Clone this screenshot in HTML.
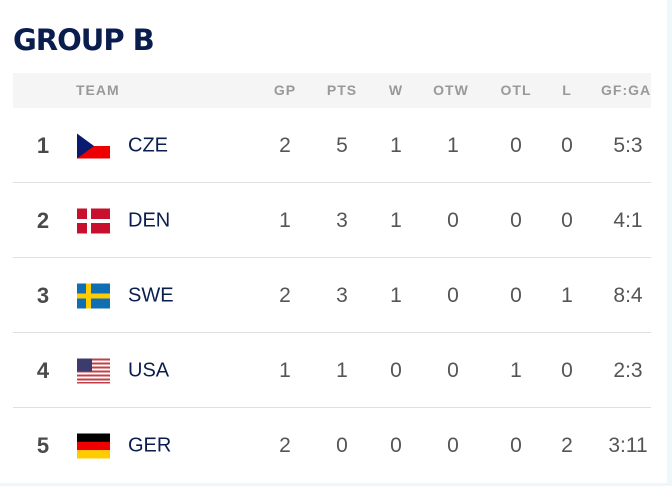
<!DOCTYPE html>
<html><head><meta charset="utf-8"><style>
*{margin:0;padding:0;box-sizing:border-box}
body{width:672px;height:486px;background:#fff;position:relative;overflow:hidden;font-family:"Liberation Sans","DejaVu Sans",sans-serif}
.a{position:absolute;white-space:nowrap}
h1{position:absolute;left:13px;top:23px;font-size:29px;font-weight:900;color:#0a1e4e;letter-spacing:-1px;font-family:"DejaVu Sans","Liberation Sans",sans-serif}
.hdr{position:absolute;left:13px;top:73px;width:638px;height:35px;background:#f5f5f5}
.h{position:absolute;top:82px;font-size:14px;font-weight:bold;color:#999;letter-spacing:1px;transform:translateX(-50%)}
.row{position:absolute;left:13px;width:638px;height:75px;border-bottom:1px solid #e0e0e0}
.n{position:absolute;font-size:21px;color:#555;transform:translate(-50%,-50%)}
.rk{position:absolute;font-size:22px;font-weight:bold;color:#4a4a4a;transform:translate(-50%,-50%)}
.tm{position:absolute;left:128px;font-size:20px;color:#0a1e4e;transform:translateY(-50%)}
.fl{position:absolute;left:77px;width:33px;height:25px;transform:translateY(-50%);overflow:hidden}
.strip{position:absolute;background:#eef8fa}
</style></head><body>
<h1>GROUP B</h1>
<div class="hdr"></div>
<div class="a" style="left:76px;top:82px;font-size:14px;font-weight:bold;color:#999;letter-spacing:1px">TEAM</div>
<div class="h" style="left:285px">GP</div>
<div class="h" style="left:342px">PTS</div>
<div class="h" style="left:396px">W</div>
<div class="h" style="left:451px">OTW</div>
<div class="h" style="left:516px">OTL</div>
<div class="h" style="left:567px">L</div>
<div class="a" style="left:601px;top:82px;font-size:14px;font-weight:bold;color:#999;letter-spacing:1px;width:50px;overflow:hidden">GF:GA</div>

<div class="row" style="top:108px"></div>
<div class="row" style="top:183px"></div>
<div class="row" style="top:258px"></div>
<div class="row" style="top:333px"></div>

<div class="strip" style="left:667px;top:0;width:5px;height:486px"></div>
<div class="strip" style="left:0;top:483px;width:672px;height:3px"></div>

<div style="position:absolute;left:0;top:146px;width:672px">
<div class="rk" style="left:43px">1</div>
<div class="fl"><svg width="33" height="25"><rect width="33" height="12.5" fill="#fff"/><rect y="12.5" width="33" height="12.5" fill="#e00"/><polygon points="0,0 17,12.5 0,25" fill="#0a1a6e"/></svg></div>
<div class="tm">CZE</div>
<div class="n" style="left:285px">2</div><div class="n" style="left:342px">5</div><div class="n" style="left:396px">1</div><div class="n" style="left:453px">1</div><div class="n" style="left:516px">0</div><div class="n" style="left:567px">0</div><div class="n" style="left:628px">5:3</div>
</div>
<div style="position:absolute;left:0;top:221px;width:672px">
<div class="rk" style="left:43px">2</div>
<div class="fl"><svg width="33" height="25"><rect width="33" height="25" fill="#c8102e"/><rect x="10" width="4" height="25" fill="#fff"/><rect y="10.5" width="33" height="4" fill="#fff"/></svg></div>
<div class="tm">DEN</div>
<div class="n" style="left:285px">1</div><div class="n" style="left:342px">3</div><div class="n" style="left:396px">1</div><div class="n" style="left:453px">0</div><div class="n" style="left:516px">0</div><div class="n" style="left:567px">0</div><div class="n" style="left:628px">4:1</div>
</div>
<div style="position:absolute;left:0;top:296px;width:672px">
<div class="rk" style="left:43px">3</div>
<div class="fl"><svg width="33" height="25"><rect width="33" height="25" fill="#106eb3"/><rect x="9" width="5" height="25" fill="#fecc00"/><rect y="10" width="33" height="5" fill="#fecc00"/></svg></div>
<div class="tm">SWE</div>
<div class="n" style="left:285px">2</div><div class="n" style="left:342px">3</div><div class="n" style="left:396px">1</div><div class="n" style="left:453px">0</div><div class="n" style="left:516px">0</div><div class="n" style="left:567px">1</div><div class="n" style="left:628px">8:4</div>
</div>
<div style="position:absolute;left:0;top:371px;width:672px">
<div class="rk" style="left:43px">4</div>
<div class="fl"><svg width="33" height="25"><rect width="33" height="25" fill="#fff"/><g fill="#c0404a"><rect y="0" width="33" height="2"/><rect y="4" width="33" height="2"/><rect y="8" width="33" height="2"/><rect y="12" width="33" height="2"/><rect y="16" width="33" height="2"/><rect y="20" width="33" height="2"/><rect y="23.5" width="33" height="1.5"/></g><rect width="15" height="13" fill="#3c3b6e"/></svg></div>
<div class="tm">USA</div>
<div class="n" style="left:285px">1</div><div class="n" style="left:342px">1</div><div class="n" style="left:396px">0</div><div class="n" style="left:453px">0</div><div class="n" style="left:516px">1</div><div class="n" style="left:567px">0</div><div class="n" style="left:628px">2:3</div>
</div>
<div style="position:absolute;left:0;top:446px;width:672px">
<div class="rk" style="left:43px">5</div>
<div class="fl"><svg width="33" height="25"><rect width="33" height="8.5" fill="#000"/><rect y="8.3" width="33" height="8.5" fill="#e00"/><rect y="16.6" width="33" height="8.4" fill="#fc0"/></svg></div>
<div class="tm">GER</div>
<div class="n" style="left:285px">2</div><div class="n" style="left:342px">0</div><div class="n" style="left:396px">0</div><div class="n" style="left:453px">0</div><div class="n" style="left:516px">0</div><div class="n" style="left:567px">2</div><div class="n" style="left:628px">3:11</div>
</div>
</body></html>
